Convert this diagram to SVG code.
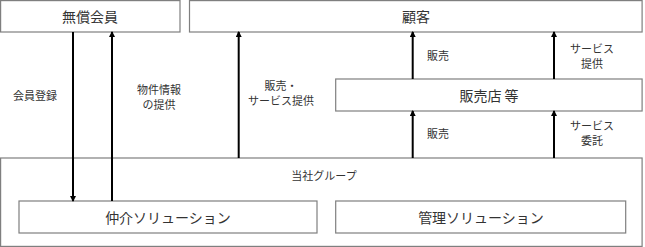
<svg xmlns="http://www.w3.org/2000/svg" width="645" height="247" viewBox="0 0 645 247">
<style>
.box{fill:#fff;stroke:#7f7f7f;stroke-width:1.2}
.t{font-family:"Noto Sans CJK JP","Noto Sans",sans-serif;fill:#333;text-anchor:middle;dominant-baseline:central}
.big{font-size:14px}
.sm{font-size:11px}
.arr{stroke:#000;stroke-width:2;fill:none;marker-end:url(#ah)}
</style>
<defs>
<marker id="ah" markerWidth="6" markerHeight="6" refX="5" refY="3" orient="auto" markerUnits="userSpaceOnUse">
<path d="M0,0 L6,3 L0,6 Z" fill="#000"/>
</marker>
</defs>
<g id="group">
<rect class="box" x="0.6" y="158" width="641.5" height="88.4"/>
<text class="t sm" x="324" y="175">当社グループ</text>
</g>
<g id="free-member">
<rect class="box" x="0.6" y="0.6" width="179.4" height="31.4"/>
<text class="t big" x="90" y="16">無償会員</text>
</g>
<g id="customer">
<rect class="box" x="189.5" y="0.6" width="452.6" height="31.4"/>
<text class="t big" x="416" y="16">顧客</text>
</g>
<g id="dealer">
<rect class="box" x="335.7" y="79" width="306.4" height="32"/>
<text class="t big" x="489" y="95">販売店 等</text>
</g>
<g id="broker">
<rect class="box" x="19" y="201" width="298" height="32"/>
<text class="t big" x="168" y="217">仲介ソリューション</text>
</g>
<g id="management">
<rect class="box" x="335.7" y="201" width="290" height="32"/>
<text class="t big" x="481" y="217">管理ソリューション</text>
</g>
<g id="connectors">
<line class="arr" x1="73" y1="32" x2="73" y2="201"/>
<line class="arr" x1="112" y1="201" x2="112" y2="32"/>
<line class="arr" x1="238.7" y1="158" x2="238.7" y2="32"/>
<line class="arr" x1="412.7" y1="79" x2="412.7" y2="32"/>
<line class="arr" x1="554" y1="79" x2="554" y2="32"/>
<line class="arr" x1="412.7" y1="158" x2="412.7" y2="111"/>
<line class="arr" x1="554" y1="158" x2="554" y2="111"/>
<text class="t sm" x="35" y="95">会員登録</text>
<text class="t sm" x="159" y="89">物件情報</text>
<text class="t sm" x="159" y="104">の提供</text>
<text class="t sm" x="281" y="85">販売・</text>
<text class="t sm" x="281" y="100">サービス提供</text>
<text class="t sm" x="438" y="55">販売</text>
<text class="t sm" x="592" y="48">サービス</text>
<text class="t sm" x="592" y="63">提供</text>
<text class="t sm" x="438" y="133">販売</text>
<text class="t sm" x="592" y="125">サービス</text>
<text class="t sm" x="592" y="140">委託</text>
</g>
</svg>
